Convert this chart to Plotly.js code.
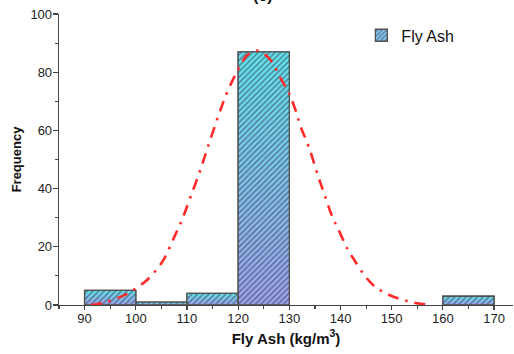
<!DOCTYPE html>
<html>
<head>
<meta charset="utf-8">
<script src="https://cdn.plot.ly/plotly-3.0.1.min.js"></script>
<style>html,body{margin:0;padding:0;background:#fff;}#chart{width:514px;height:354px;}</style>
</head>
<body>
<div id="chart"></div>
<script>
// Histogram bins (kg/m3) and counts
const binStart = [90, 100, 110, 120, 130, 140, 150, 160];
const binEnd   = [100, 110, 120, 130, 140, 150, 160, 170];
const counts   = [5, 1, 4, 87, 0, 0, 0, 3];

// Fitted normal curve
const curveX = [91.2, 93.8, 98.3, 100, 102.2, 105.2, 107.4, 109.1, 110.7, 112.5, 113.9, 116.2, 117.9, 119.8, 121.8, 123.8, 126.3, 128.3, 129.9, 131.2, 132.2, 133.8, 135.6, 136.9, 138.4, 139.5, 141.3, 142.6, 144.9, 146.6, 149.1, 151.7, 154.3, 156.6];
const curveY = [0, 0.8, 3.8, 5.7, 8.6, 14.9, 22.9, 29.6, 37.2, 45.8, 53.3, 65.3, 73.3, 80.2, 85.9, 87.4, 84.2, 77.9, 72.9, 67, 61.3, 54.4, 44.4, 37.8, 30.3, 26.3, 19.5, 15.7, 9.7, 6.5, 3.8, 2.0, 0.8, 0.2];

const xTicks = [90, 100, 110, 120, 130, 140, 150, 160, 170];
const yTicks = [0, 20, 40, 60, 80, 100];

const nz = counts.map((c, i) => i).filter(i => counts[i] > 0);
const traces = [];
// histogram bars (also provide the legend swatch)
traces.push({
  type: 'bar', name: 'Fly Ash',
  x: nz.map(i => (binStart[i] + binEnd[i]) / 2),
  y: nz.map(i => counts[i]),
  width: nz.map(i => binEnd[i] - binStart[i]),
  marker: {
    color: '#86c6f0',
    line: {color: '#505050', width: 1.3},
    pattern: {shape: '/', fgcolor: '#2e2e3a', size: 4, solidity: 0.42, fillmode: 'overlay'}
  }
});
// gradient fill for each bar
nz.forEach(i => {
  traces.push({
    type: 'scatter', mode: 'lines',
    x: [binStart[i], binStart[i], binEnd[i], binEnd[i], binStart[i]],
    y: [0, counts[i], counts[i], 0, 0],
    fill: 'toself',
    fillgradient: {type: 'vertical', colorscale: [[0, '#a0a6f2'], [1, '#62e8f2']]},
    line: {width: 0},
    hoverinfo: 'skip', showlegend: false
  });
});
// hatching + outline for each bar
nz.forEach(i => {
  traces.push({
    type: 'scatter', mode: 'lines',
    x: [binStart[i], binStart[i], binEnd[i], binEnd[i], binStart[i]],
    y: [0, counts[i], counts[i], 0, 0],
    fill: 'toself', fillcolor: 'rgba(0,0,0,0)',
    fillpattern: {shape: '/', fgcolor: '#2e2e3a', size: 4, solidity: 0.42, fillmode: 'overlay', bgcolor: 'rgba(0,0,0,0)'},
    line: {width: 1.3, color: '#505050'},
    hoverinfo: 'skip', showlegend: false
  });
});
traces.push({
  type: 'scatter', mode: 'lines', x: curveX, y: curveY,
  line: {color: '#ff2a2a', width: 2.6, dash: '11px,7px,2.5px,7px', shape: 'spline', smoothing: 1},
  showlegend: false, hoverinfo: 'skip'
});

const layout = {
  width: 514, height: 354,
  margin: {l: 59, r: 1, t: 14, b: 49},
  paper_bgcolor: '#fff', plot_bgcolor: '#fff',
  font: {family: 'Liberation Sans, Arial, sans-serif', size: 13, color: '#222'},
  barmode: 'overlay',
  showlegend: true,
  legend: {x: 0.666, y: 0.985, xanchor: 'left', yanchor: 'top', bgcolor: 'rgba(0,0,0,0)', font: {size: 16, color: '#111'}},
  xaxis: {
    range: [85, 173.7], tickvals: xTicks, ticktext: xTicks.map(String),
    showgrid: false, zeroline: false, showline: true, linecolor: '#444', linewidth: 1.3,
    ticks: 'outside', ticklen: 4, tickcolor: '#444', tickwidth: 1.2, ticklabelstandoff: -3,
    minor: {dtick: 5, tick0: 85, ticks: 'outside', ticklen: 3, tickcolor: '#444', showgrid: false},
    tickfont: {size: 13, color: '#222'},
    title: {text: 'Fly Ash (kg/m<sup>3</sup>)', font: {size: 15, color: '#111', weight: 'bold'}, standoff: 8}
  },
  yaxis: {
    range: [0, 100], tickvals: yTicks, ticktext: yTicks.map(String),
    showgrid: false, zeroline: false, showline: true, linecolor: '#444', linewidth: 1.3,
    ticks: 'outside', ticklen: 5, tickcolor: '#444', tickwidth: 1.2, ticklabelstandoff: -2,
    minor: {dtick: 10, ticks: 'outside', ticklen: 3, tickcolor: '#444', showgrid: false},
    tickfont: {size: 13, color: '#222'},
    title: {text: 'Frequency', font: {size: 13, color: '#111', weight: 'bold'}, standoff: 5}
  },
  annotations: [{
    text: '<b>(c)</b>', xref: 'paper', yref: 'paper', x: 0.45, y: 1.065,
    xanchor: 'center', yanchor: 'middle', showarrow: false, font: {size: 16, color: '#111'}
  }]
};

Plotly.newPlot('chart', traces, layout, {staticPlot: true, displayModeBar: false});
</script>
</body>
</html>
